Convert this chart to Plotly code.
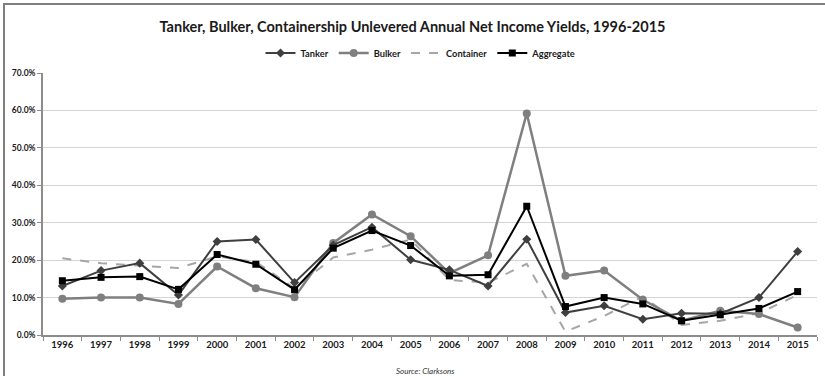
import plotly.graph_objects as go

years = [str(y) for y in range(1996, 2016)]

tanker = [13.1, 17.2, 19.2, 10.7, 25.0, 25.5, 14.0, 24.0, 28.8, 20.1,
          17.4, 13.1, 25.6, 6.0, 7.8, 4.2, 5.8, 5.7, 10.0, 22.3]
bulker = [9.7, 10.0, 10.0, 8.3, 18.3, 12.5, 10.1, 24.6, 32.2, 26.4,
          16.5, 21.3, 59.2, 15.8, 17.2, 9.4, 3.8, 6.5, 5.6, 2.0]
container = [20.5, 19.2, 18.5, 17.9, 21.0, 19.5, 12.5, 20.7, 22.8, 25.5,
             14.7, 14.0, 19.0, 0.9, 5.1, 10.3, 2.7, 3.8, 5.8, 10.7]
aggregate = [14.5, 15.4, 15.6, 12.2, 21.5, 18.9, 12.1, 23.2, 27.9, 23.9,
             15.8, 16.1, 34.4, 7.6, 10.0, 8.3, 3.8, 5.4, 7.1, 11.6]

font_family = "Lato, 'Open Sans', sans-serif"

fig = go.Figure()
fig.add_trace(go.Scatter(
    x=years, y=container, name="<b>Container</b>", mode="lines",
    line=dict(color="#a6a6a6", width=2, dash="dash"),
    legendrank=3))
fig.add_trace(go.Scatter(
    x=years, y=bulker, name="<b>Bulker</b>", mode="lines+markers",
    line=dict(color="#7f7f7f", width=2.5),
    marker=dict(symbol="circle", size=8, color="#7f7f7f"),
    legendrank=2))
fig.add_trace(go.Scatter(
    x=years, y=tanker, name="<b>Tanker</b>", mode="lines+markers",
    line=dict(color="#3f3f3f", width=2),
    marker=dict(symbol="diamond", size=7, color="#3f3f3f"),
    legendrank=1))
fig.add_trace(go.Scatter(
    x=years, y=aggregate, name="<b>Aggregate</b>", mode="lines+markers",
    line=dict(color="#000000", width=2),
    marker=dict(symbol="square", size=7, color="#000000"),
    legendrank=4))

fig.update_layout(
    width=825, height=376,
    margin=dict(l=43, r=8, t=73, b=41, autoexpand=False),
    paper_bgcolor="white", plot_bgcolor="white",
    font=dict(family=font_family, color="#262626"),
    title=dict(
        text="<b>Tanker, Bulker, Containership Unlevered Annual Net Income Yields, 1996-2015</b>",
        x=0.5, xref="container", xanchor="center",
        y=1 - 27 / 376, yref="container", yanchor="middle",
        font=dict(size=14.5, color="#1a1a1a")),
    legend=dict(
        orientation="h", x=421 / 825, xanchor="center", xref="container",
        y=1 - 53 / 376, yref="container", yanchor="middle",
        font=dict(size=9.3, color="#1a1a1a"),
        itemwidth=30, traceorder="normal"),
    showlegend=True,
)

fig.update_xaxes(
    type="category", range=[-0.5, len(years) - 0.5], autorange=False,
    showgrid=False,
    showline=True, linecolor="#8c8c8c", linewidth=1.5,
    ticks="outside", tickson="boundaries", ticklen=4, tickcolor="#8c8c8c",
    tickfont=dict(size=9.5, color="#1a1a1a", family=font_family),
    tickprefix="<b>", ticksuffix="</b>")
fig.update_yaxes(
    range=[0, 70], dtick=10, tickformat=".1f", ticksuffix="%</b>", tickprefix="<b>",
    showgrid=True, gridcolor="#d4d4d4", gridwidth=1,
    showline=True, linecolor="#8c8c8c", linewidth=1.5,
    ticks="outside", ticklen=4, tickcolor="#8c8c8c",
    tickfont=dict(size=8.5, color="#1a1a1a", family=font_family),
    zeroline=False)

# Outer frame: left and top edges of the chart border, kept inside the page
plot_w, plot_h = 774, 262
frame_left = (4 - 43) / plot_w
frame_top = (335 - 4) / plot_h
frame_right = (825 - 43) / plot_w
frame_bottom = (335 - 376) / plot_h
fig.add_shape(type="path", xref="paper", yref="paper",
              path=f"M {frame_left},{frame_bottom} L {frame_left},{frame_top} L {frame_right},{frame_top}",
              line=dict(color="#7f7f7f", width=2), layer="below")

fig.add_annotation(
    text="<i>Source: Clarksons</i>", xref="paper", yref="paper",
    x=(425 - 43) / plot_w, y=(335 - 371) / plot_h, showarrow=False,
    font=dict(size=8, color="#333333", family=font_family),
    xanchor="center", yanchor="middle")

fig.write_html("out.html")
